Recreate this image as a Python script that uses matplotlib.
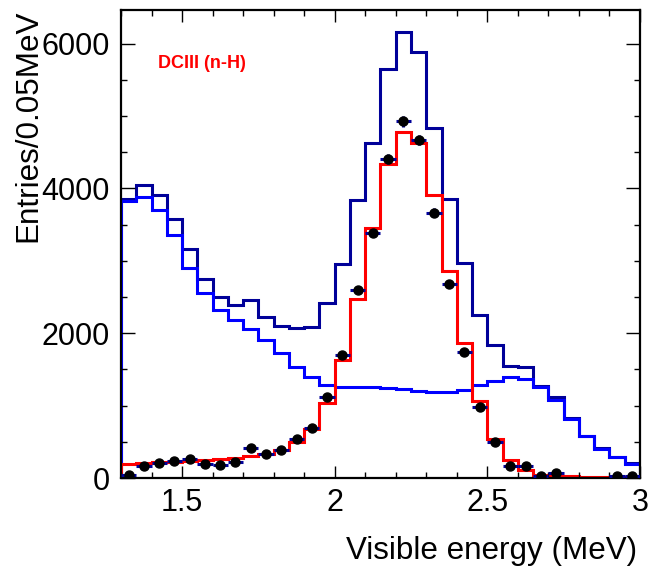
import numpy as np
import matplotlib
matplotlib.use('Agg')
import matplotlib.pyplot as plt
from matplotlib.ticker import MultipleLocator

plt.rcParams['font.family'] = ['Liberation Sans', 'DejaVu Sans']

# binning: 0.05 MeV from 1.3 to 3.0
edges = np.round(np.arange(1.30, 3.0001, 0.05), 3)

# total prediction (dark blue)
total = [3860, 4050, 3915, 3580, 3160, 2750, 2500, 2390, 2460, 2220,
         2100, 2070, 2080, 2415, 2955, 3845, 4625, 5650, 6155, 5880,
         4840, 3855, 2965, 2255, 1840, 1550, 1530, 1265, 1125, 825,
         585, 410, 295, 205]

# background (light blue)
background = [3830, 3875, 3705, 3350, 2905, 2550, 2320, 2185, 2055, 1905,
              1725, 1540, 1390, 1285, 1260, 1255, 1252, 1240, 1226, 1205,
              1185, 1185, 1215, 1280, 1343, 1400, 1368, 1258, 1080, 815,
              575, 400, 285, 195]

# n-H signal MC (red)
signal = [200, 205, 215, 225, 235, 245, 258, 275, 300, 330,
          390, 500, 680, 1040, 1635, 2470, 3450, 4335, 4775, 4625,
          3910, 2865, 1860, 1065, 535, 250, 110, 35, 25, 22,
          20, 18, 16, 15]

# data points
data = [41, 170, 210, 238, 260, 193, 180, 217, 408, 330,
        385, 535, 697, 1124, 1696, 2603, 3382, 4404, 4925, 4671,
        3667, 2677, 1746, 977, 502, 166, 170, 25, 73, 0,
        0, 0, 30, 25]

fig = plt.figure(figsize=(6.48, 5.70), dpi=100)
ax = fig.add_axes([121 / 648, 1 - 478 / 570, 519 / 648, 468 / 570])

ax.stairs(total, edges, color='#000099', linewidth=2.2)
ax.stairs(background, edges, color='#0000ff', linewidth=2.2)
ax.stairs(signal, edges, color='#ff0000', linewidth=2.2)

centers = 0.5 * (edges[:-1] + edges[1:])
data = np.array(data, dtype=float)
keep = data > 0
ax.errorbar(centers[keep], data[keep], xerr=0.025, yerr=np.sqrt(data[keep]),
            fmt='o', color='black', ecolor='#000099', elinewidth=2.2,
            capsize=0, markersize=6.5, zorder=5)

ax.text(0.071, 0.885, 'DCIII (n-H)', transform=ax.transAxes, color='#ff0000',
        fontsize=13, fontweight='bold', va='center', ha='left')

ax.set_xlim(1.3, 3.0)
ax.set_ylim(0, 6465)
ax.xaxis.set_major_locator(MultipleLocator(0.5))
ax.xaxis.set_minor_locator(MultipleLocator(0.1))
ax.yaxis.set_major_locator(MultipleLocator(2000))
ax.yaxis.set_minor_locator(MultipleLocator(500))
ax.set_xticks([1.5, 2.0, 2.5, 3.0])
ax.set_xticklabels(['1.5', '2', '2.5', '3'])

ax.tick_params(which='both', direction='in', top=True, right=True,
               labelsize=22, width=1.0)
ax.tick_params(axis='x', which='major', length=8.5, pad=7)
ax.tick_params(axis='y', which='major', length=10, pad=8)
ax.tick_params(which='minor', length=4.5)
for s in ax.spines.values():
    s.set_linewidth(1.6)

fig.text(637 / 648, 1 - 551 / 570, 'Visible energy (MeV)', fontsize=22.6,
         ha='right', va='center')
fig.text(28 / 648, 1 - 10 / 570, 'Entries/0.05MeV', fontsize=22.6,
         rotation=90, ha='center', va='top')

fig.savefig('out.png', dpi=100)
